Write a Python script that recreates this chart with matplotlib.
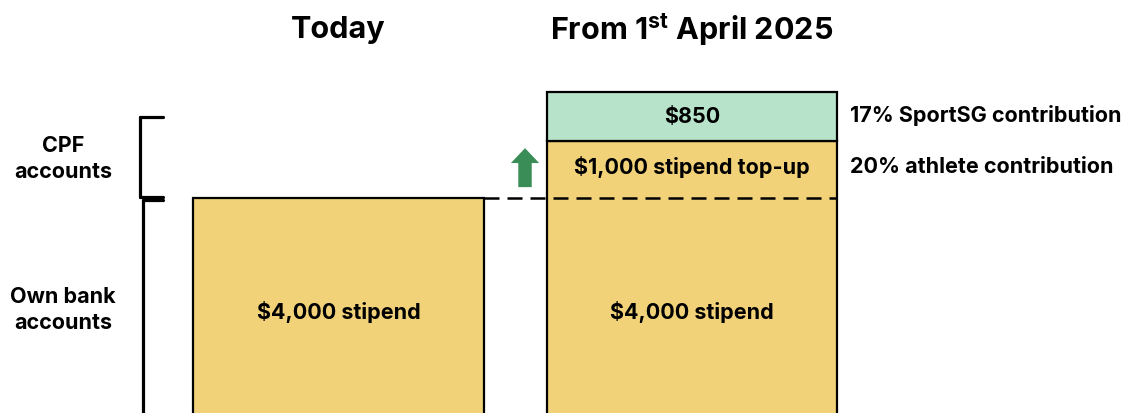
import matplotlib.pyplot as plt

# data
titles = ["Today", "From 1$^{\\mathbf{st}}$ April 2025"]
stipend = [4000, 4000]
top_up = 1000
sportsg = 850
seg_labels = ["$4,000 stipend", "$1,000 stipend top-up", "$850"]
side_labels = ["17% SportSG contribution", "20% athlete contribution"]
group_labels = ["CPF\naccounts", "Own bank\naccounts"]

yellow = "#F1D279"
green = "#B6E3C9"
arrow_green = "#3A8D57"

plt.rcParams['font.family'] = ['Inter', 'DejaVu Sans']
plt.rcParams['mathtext.fontset'] = 'custom'
plt.rcParams['mathtext.bf'] = 'Inter:bold'
plt.rcParams['mathtext.rm'] = 'Inter:bold'

W, H = 1128, 414
fig = plt.figure(figsize=(W / 100, H / 100), dpi=100)
ax = fig.add_axes([0, 0, 1, 1])
ax.set_xlim(-0.9576, 2.2334)
ax.set_ylim(248, 7473)
ax.axis('off')

def px(x, y):
    return x / W, 1 - y / H

bw = 0.823
x = [0, 1]

# left bar
ax.bar(x[0], stipend[0], width=bw, color=yellow, edgecolor='black', linewidth=1.6)
# right bar
ax.bar(x[1], stipend[1], width=bw, color=yellow, linewidth=0)
ax.bar(x[1], top_up, bottom=stipend[1], width=bw, color=yellow, linewidth=0)
ax.bar(x[1], stipend[1] + top_up, width=bw, fill=False, edgecolor='black', linewidth=1.6)
ax.bar(x[1], sportsg, bottom=stipend[1] + top_up, width=bw, color=green,
       edgecolor='black', linewidth=1.6)

# dashed line at today's level
ax.plot([x[0] + bw / 2, x[1] + bw / 2], [stipend[0], stipend[0]], color='black',
        linewidth=1.8, linestyle=(0, (6, 3.2)), zorder=3)

# labels in segments
fs = 15.5
ax.text(x[0], 2030, seg_labels[0], ha='center', va='center', fontsize=fs, fontweight='bold')
ax.text(x[1], 2030, seg_labels[0], ha='center', va='center', fontsize=fs, fontweight='bold')
ax.text(x[1], stipend[1] + top_up * 0.55, seg_labels[1], ha='center', va='center',
        fontsize=fs, fontweight='bold')
ax.text(x[1], stipend[1] + top_up + sportsg / 2, seg_labels[2], ha='center', va='center',
        fontsize=fs, fontweight='bold')

# side labels
ax.text(x[1] + bw / 2 + 0.035, stipend[1] + top_up + sportsg / 2 + 40, side_labels[0],
        ha='left', va='center', fontsize=fs, fontweight='bold')
ax.text(x[1] + bw / 2 + 0.035, stipend[1] + top_up * 0.55, side_labels[1],
        ha='left', va='center', fontsize=fs, fontweight='bold')

# titles
for xi, t in zip(x, titles):
    ax.text(xi, ax.get_ylim()[1] - 30 / 0.0573, t, ha='center', va='center',
            fontsize=22, fontweight='bold')

# arrow
ax.arrow(0.5276, 4190, 0, 420, width=0.038, head_width=0.08, head_length=260,
         length_includes_head=False, color=arrow_green, linewidth=0)

# brackets
lw = 2.3
for (xa, ya), (xb, yb) in [((163, 118), (140, 118)), ((140, 118), (140, 198)),
                           ((140, 198), (163, 198)), ((163, 201), (143, 201)),
                           ((143, 201), (143, 420))]:
    fig.add_artist(plt.Line2D([xa / W, xb / W], [1 - ya / H, 1 - yb / H],
                              color='black', linewidth=lw, solid_capstyle='round'))

fig.text(*px(63, 159), group_labels[0], ha='center', va='center', fontsize=fs,
         fontweight='bold', linespacing=1.4)
fig.text(*px(63, 310), group_labels[1], ha='center', va='center', fontsize=fs,
         fontweight='bold', linespacing=1.4)

fig.savefig("out.png", dpi=100)
